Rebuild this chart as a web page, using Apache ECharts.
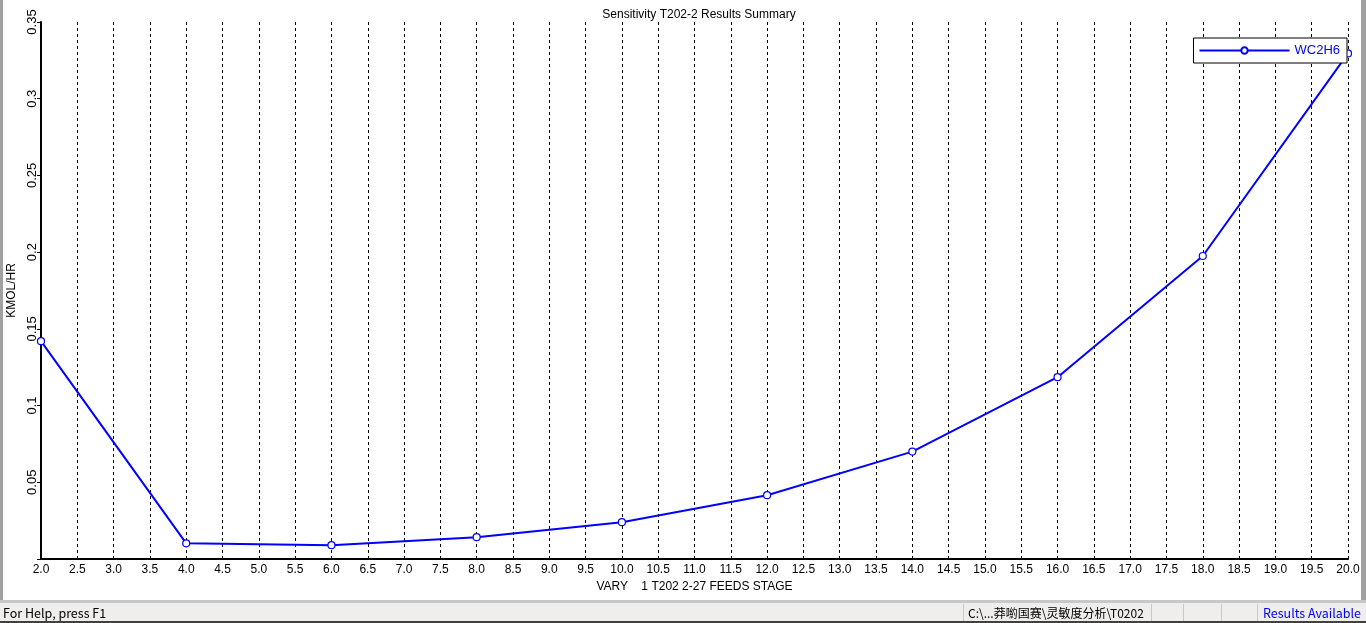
<!DOCTYPE html>
<html>
<head>
<meta charset="utf-8">
<script src="https://cdn.jsdelivr.net/npm/echarts@6/dist/echarts.min.js"></script>
<style>
html,body{margin:0;padding:0;background:#fff;}
#c{width:1366px;height:623px;}
</style>
</head>
<body>
<div id="c"></div>
<script>
const stages = [2, 4, 6, 8, 10, 12, 14, 16, 18, 20];
const wc2h6 = [0.142, 0.0102, 0.0090, 0.0142, 0.0240, 0.0416, 0.0700, 0.1185, 0.1975, 0.3295];
const seriesName = 'WC2H6';
const titleText = 'Sensitivity T202-2 Results Summary';
const xName = 'VARY    1 T202 2-27 FEEDS STAGE';
const yName = 'KMOL/HR';
const statusLeft = 'For Help, press F1';
const statusPath = 'C:\\...莽喲国赛\\灵敏度分析\\T0202';
const statusRight = 'Results Available';

const chart = echarts.init(document.getElementById('c'), null, {renderer: 'canvas'});
const F = '"Liberation Sans", Arial, sans-serif';
const SF = '"Noto Sans CJK SC", "Noto Sans", sans-serif';
chart.setOption({
  animation: false,
  backgroundColor: '#ffffff',
  title: {
    text: titleText, left: 694, top: 4, textAlign: 'center',
    textStyle: {fontFamily: F, fontSize: 12, fontWeight: 'normal', color: '#000'}
  },
  legend: {
    right: 19, top: 38, orient: 'horizontal',
    data: [seriesName],
    itemWidth: 90, itemHeight: 8, itemGap: 6,
    padding: [6, 7, 6, 5],
    borderColor: '#000', borderWidth: 1, backgroundColor: '#fff',
    textStyle: {fontFamily: F, fontSize: 13, color: '#0000ff'}
  },
  grid: {left: 41, right: 18, top: 22, bottom: 64, containLabel: false, outerBoundsMode: 'none'},
  xAxis: {
    type: 'value', min: 2, max: 20, interval: 0.5,
    name: xName, nameLocation: 'middle', nameGap: 19,
    nameTextStyle: {fontFamily: F, fontSize: 12, color: '#000'},
    axisLine: {show: true, lineStyle: {color: '#000', width: 2}},
    axisTick: {show: false},
    axisLabel: {fontFamily: F, fontSize: 12, color: '#000', margin: 5,
      formatter: v => v.toFixed(1)},
    splitLine: {show: true, lineStyle: {color: '#000', type: [3, 3], width: 1}}
  },
  yAxis: {
    type: 'value', min: 0, max: 0.35, interval: 0.05,
    name: yName, nameLocation: 'middle', nameGap: 22, nameRotate: 90,
    nameTextStyle: {fontFamily: F, fontSize: 12, color: '#000'},
    axisLine: {show: true, lineStyle: {color: '#000', width: 2}},
    axisTick: {show: true, length: 4, lineStyle: {color: '#000', width: 1}},
    axisLabel: {fontFamily: F, fontSize: 13, color: '#000', rotate: 90, margin: 2,
      formatter: v => v === 0 ? '' : String(parseFloat(v.toFixed(2)))},
    splitLine: {show: false}
  },
  series: [{
    name: seriesName, type: 'line',
    data: stages.map((s, i) => [s, wc2h6[i]]),
    symbol: 'circle', symbolSize: 7, showAllSymbol: true,
    lineStyle: {color: '#0000ff', width: 2},
    itemStyle: {color: '#ffffff', borderColor: '#0000ff', borderWidth: 1.2},
    clip: false
  }],
  graphic: [
    {type: 'rect', shape: {x: 0, y: 0, width: 3, height: 603}, style: {fill: '#a0a0a0'}, z: 100},
    {type: 'rect', shape: {x: 1361, y: 0, width: 5, height: 603}, style: {fill: '#a0a0a0'}, z: 100},
    {type: 'rect', shape: {x: 0, y: 600, width: 1366, height: 3}, style: {fill: '#c8c8c8'}, z: 100},
    {type: 'rect', shape: {x: 0, y: 603, width: 1366, height: 20}, style: {fill: '#f0eded'}, z: 100},
    {type: 'rect', shape: {x: 0, y: 621, width: 1366, height: 2}, style: {fill: '#404040'}, z: 101},
    {type: 'line', shape: {x1: 963.5, y1: 604, x2: 963.5, y2: 621}, style: {stroke: '#c8c8c8', lineWidth: 1}, z: 101},
    {type: 'line', shape: {x1: 1151.5, y1: 604, x2: 1151.5, y2: 621}, style: {stroke: '#c8c8c8', lineWidth: 1}, z: 101},
    {type: 'line', shape: {x1: 1183.5, y1: 604, x2: 1183.5, y2: 621}, style: {stroke: '#c8c8c8', lineWidth: 1}, z: 101},
    {type: 'line', shape: {x1: 1221.5, y1: 604, x2: 1221.5, y2: 621}, style: {stroke: '#c8c8c8', lineWidth: 1}, z: 101},
    {type: 'line', shape: {x1: 1257.5, y1: 604, x2: 1257.5, y2: 621}, style: {stroke: '#c8c8c8', lineWidth: 1}, z: 101},
    {type: 'text', x: 3, y: 613, z: 102, style: {text: statusLeft, fontFamily: SF, fontSize: 12.5, fill: '#000', verticalAlign: 'middle'}},
    {type: 'text', x: 968, y: 613, z: 102, style: {text: statusPath, fontFamily: SF, fontSize: 12, fill: '#000', verticalAlign: 'middle'}},
    {type: 'text', x: 1263, y: 613, z: 102, style: {text: statusRight, fontFamily: SF, fontSize: 12.5, fill: '#0000ff', verticalAlign: 'middle'}}
  ]
});
</script>
</body>
</html>
